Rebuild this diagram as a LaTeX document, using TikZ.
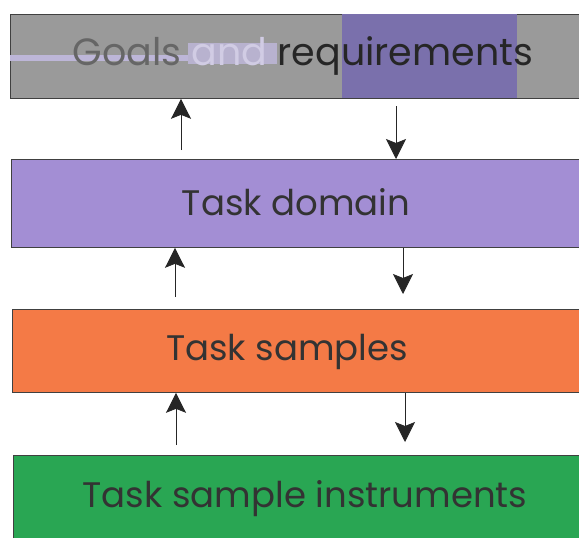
\documentclass[tikz,border=0pt]{standalone}
\usepackage{fontspec}
\setmainfont{Poppins}
\usetikzlibrary{arrows.meta}
\definecolor{grayband}{HTML}{9A9A9A}
\definecolor{inviolet}{HTML}{7A70AC}
\definecolor{lavband}{HTML}{A38ED4}
\definecolor{orangeband}{HTML}{F47A46}
\definecolor{greenband}{HTML}{29A653}
\definecolor{txt}{HTML}{333333}
\definecolor{paleviolet}{HTML}{BDB6D8}
\tikzset{
  band/.style={draw=black!75, line width=0.8pt, anchor=north west, inner sep=0pt},
  label/.style={font=\fontsize{35.5}{38}\selectfont, text=txt, inner sep=0pt},
  link/.style={draw=black!85, line width=0.8pt, -{Stealth[length=20pt,width=20pt,inset=4pt]}},
}
\begin{document}
\begin{tikzpicture}[x=1pt,y=-1pt]
\useasboundingbox (0,0) rectangle (579,538);
\clip (0,0) rectangle (579,538);
% bands
\node[band, fill=grayband, minimum width=600pt, minimum height=84pt] (b1) at (10,14) {};
\fill[inviolet] (342,14.4) rectangle (517,97.6);
\fill[paleviolet] (10.4,55) rectangle (188,61);
\fill[paleviolet!85!grayband] (188,43) rectangle (277,64);
\node[band, fill=lavband, minimum width=600pt, minimum height=88pt] (b2) at (11,159) {};
\node[band, fill=orangeband, minimum width=600pt, minimum height=83pt] (b3) at (12,309) {};
\node[band, fill=greenband, minimum width=600pt, minimum height=95pt] (b4) at (13,455) {};
% labels
\node[label, font=\fontsize{38}{40}\selectfont] (t1) at (303,56) {\textcolor{black!60}{Goals} \textcolor{paleviolet!70!white}{and} \textcolor{black!85}{requirements}};
\node[label] (t2) at (296,202) {Task domain};
\node[label] (t3) at (287,352) {Task samples};
\node[label] (t4) at (305,499) {Task sample instruments};
% arrow end points
\coordinate (u1s) at (181,150);
\coordinate (u1e) at (b1.south -| u1s);
\coordinate (d1s) at (396,106);
\coordinate (d1e) at (b2.north -| d1s);
\coordinate (u2s) at (175,297);
\coordinate (u2e) at (b2.south -| u2s);
\coordinate (d2s) at (b2.south -| 403,0);
\coordinate (d2e) at (403,294);
\coordinate (u3s) at (176,445);
\coordinate (u3e) at (b3.south -| u3s);
\coordinate (d3s) at (b3.south -| 405,0);
\coordinate (d3e) at (405,442);
% arrows
\draw[link] (u1s) -- (u1e);
\draw[link] (d1s) -- (d1e);
\draw[link] (u2s) -- (u2e);
\draw[link] (d2s) -- (d2e);
\draw[link] (u3s) -- (u3e);
\draw[link] (d3s) -- (d3e);
\end{tikzpicture}
\end{document}
